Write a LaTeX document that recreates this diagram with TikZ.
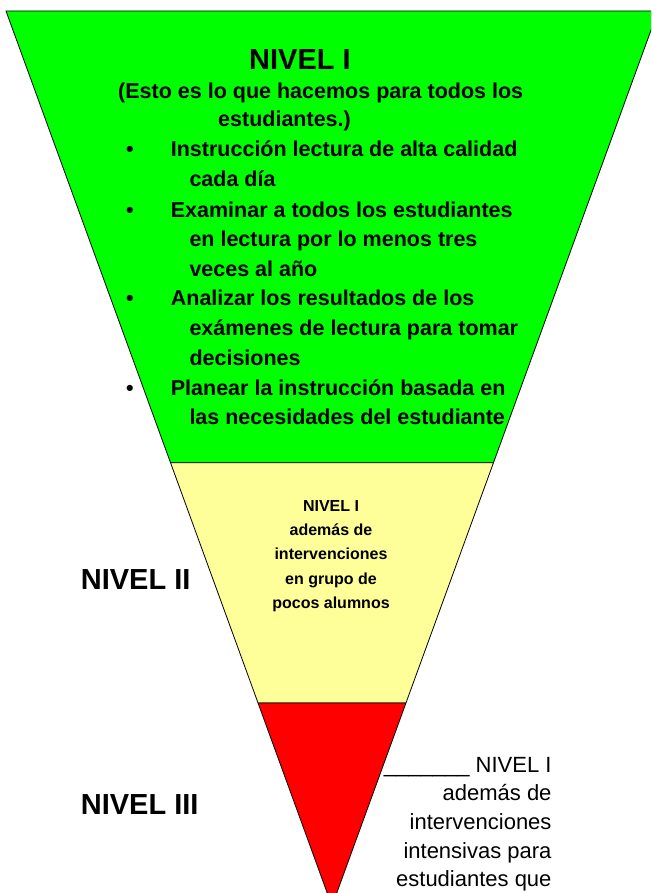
\documentclass[tikz,border=0pt]{standalone}
\usepackage{fontspec}
\setmainfont{Liberation Sans}
\usepackage{xcolor}
\usepackage{tikz}
\usetikzlibrary{calc}

\definecolor{nivgreen}{RGB}{0,255,0}
\definecolor{nivyellow}{RGB}{255,255,153}
\definecolor{nivred}{RGB}{255,0,0}

\begin{document}
\begin{tikzpicture}[x=1pt,y=-1pt,
	tier/.style={draw=black,line width=0.8pt,line join=round},
	big/.style={inner sep=0pt,font=\fontsize{29}{29}\bfseries\selectfont},
	item/.style={inner sep=0pt,anchor=base west,align=left,font=\fontsize{21.5}{29.7}\bfseries\selectfont}]
			\useasboundingbox (0,0) rectangle (651,893);
			\clip (0,0) rectangle (651,893);

			\coordinate (tl) at (6,11);
			\coordinate (tr) at (658,11);
			\coordinate (ap) at (332,906);
			\coordinate (g1) at ($(tl)!0.5047!(ap)$);
			\coordinate (g2) at ($(tr)!0.5047!(ap)$);
			\coordinate (r1) at ($(tl)!0.7732!(ap)$);
			\coordinate (r2) at ($(tr)!0.7732!(ap)$);

			%% tiers
			\filldraw[tier, fill=nivgreen] (tl) -- (tr) -- (g2) -- (g1) -- cycle;
			\filldraw[tier, fill=nivyellow] (g1) -- (g2) -- (r2) -- (r1) -- cycle;
			\filldraw[tier, fill=nivred] (r1) -- (r2) -- (ap) -- cycle;

			%% level I (nodes placed by the baseline of their last line)
			\node[big, anchor=base] (niv1) at (300,69.3) {NIVEL I};
			\node[item, font=\fontsize{21.5}{28.4}\bfseries\selectfont] (intro) at (118,126.7) {(Esto es lo que hacemos para todos los\\\hspace*{100pt}estudiantes.)};
			\node[item] (it1) at (126,186.4) {\makebox[44.7pt][l]{•}Instrucción lectura de alta calidad\\\hspace*{63.3pt}cada día};
			\node[item] (it2) at (126,276.4) {\makebox[44.7pt][l]{•}Examinar a todos los estudiantes\\\hspace*{63.3pt}en lectura por lo menos tres\\\hspace*{63.3pt}veces al año};
			\node[item] (it3) at (126,365.1) {\makebox[44.7pt][l]{•}Analizar los resultados de los\\\hspace*{63.3pt}exámenes de lectura para tomar\\\hspace*{63.3pt}decisiones};
			\node[item] (it4) at (126,424.7) {\makebox[44.7pt][l]{•}Planear la instrucción basada en\\\hspace*{63.3pt}las necesidades del estudiante};

			%% level II
			\node[inner sep=0pt, anchor=base, align=center, font=\fontsize{16}{24.1}\bfseries\selectfont] (txt2) at (331,608.1) {NIVEL I\\además de\\intervenciones\\en grupo de\\pocos alumnos};
			\node[big, anchor=base west] (niv2) at (80.7,589.3) {NIVEL II};

			%% level III
			\node[big, anchor=base west] (niv3) at (80.7,814) {NIVEL III};
			\node[inner sep=0pt, anchor=base east, align=right, font=\fontsize{22}{28.6}\selectfont] (txt3) at (551.7,886.7) {\_\_\_\_\_\_\_ NIVEL I\\además de\\intervenciones\\intensivas para\\estudiantes que};
		\end{tikzpicture}
\end{document}
